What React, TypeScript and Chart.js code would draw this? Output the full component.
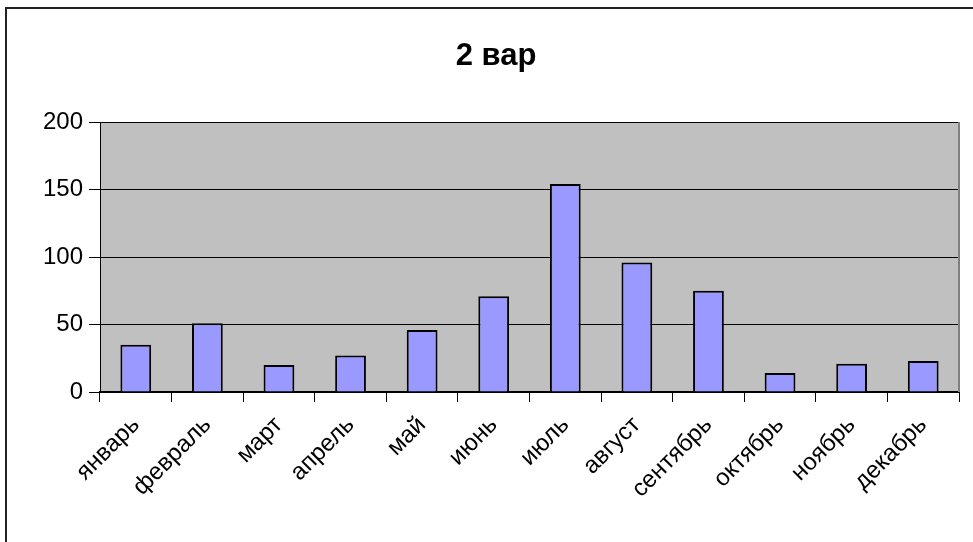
import React, { useEffect, useRef } from "react";
import { Chart, registerables } from "chart.js";

Chart.register(...registerables);

// ---- data ----
const months = [
  "январь",
  "февраль",
  "март",
  "апрель",
  "май",
  "июнь",
  "июль",
  "август",
  "сентябрь",
  "октябрь",
  "ноябрь",
  "декабрь",
];
const values = [35, 51, 20, 27, 46, 71, 154, 96, 75, 14, 21, 23];
const yMin = 0;
const yMax = 200;
const yStep = 50;
const chartTitle = "2 вар";

// ---- layout ----
const W = 973;
const H = 542;
const PAD_LEFT = 33;
const PLOT_LEFT = 100;
const PLOT_RIGHT = 959;
const PLOT_TOP = 122;
const PLOT_BOTTOM = 392;
const FONT = "'Liberation Sans', Arial, sans-serif";

const plotDecor = {
  id: "plotDecor",
  beforeDraw(chart: any) {
    const { ctx, chartArea } = chart;
    const { left, top, right, bottom } = chartArea;
    ctx.save();
    ctx.fillStyle = "#C0C0C0";
    ctx.fillRect(left, top, right - left, bottom - top);
    ctx.restore();
  },
  afterDraw(chart: any) {
    const { ctx, chartArea } = chart;
    const { top, right, bottom } = chartArea;
    ctx.save();
    ctx.strokeStyle = "#808080";
    ctx.lineWidth = 2;
    ctx.beginPath();
    ctx.moveTo(right, top);
    ctx.lineTo(right, bottom);
    ctx.stroke();
    ctx.restore();
  },
};

export default function App() {
  const canvasRef = useRef<HTMLCanvasElement | null>(null);

  useEffect(() => {
    const canvas = canvasRef.current;
    if (!canvas) return;
    const titleSize = 31;
    const titleLine = titleSize * 1.2;
    const titleTopPad = 38;
    const chart = new Chart(canvas, {
      type: "bar",
      data: {
        labels: months,
        datasets: [
          {
            data: values,
            backgroundColor: "#9999FF",
            borderColor: "#000000",
            borderWidth: 2,
            barPercentage: 0.43,
            categoryPercentage: 1,
          },
        ],
      },
      plugins: [plotDecor],
      options: {
        animation: false,
        responsive: true,
        maintainAspectRatio: false,
        layout: {
          padding: { left: PAD_LEFT, right: W - PLOT_RIGHT, top: 0, bottom: 0 },
        },
        plugins: {
          legend: { display: false },
          tooltip: { enabled: false },
          title: {
            display: true,
            text: chartTitle,
            color: "#000",
            font: { family: FONT, size: titleSize, weight: "bold", lineHeight: 1.2 },
            padding: {
              top: titleTopPad,
              bottom: PLOT_TOP - titleTopPad - titleLine,
            },
          },
        },
        scales: {
          x: {
            offset: true,
            grid: {
              display: true,
              drawOnChartArea: false,
              drawTicks: true,
              tickLength: 10,
              color: "#000",
              offset: true,
            },
            border: { display: true, color: "#000", width: 2 },
            ticks: {
              color: "#000",
              font: { family: FONT, size: 24 },
              minRotation: 45,
              maxRotation: 45,
              autoSkip: false,
              padding: 9,
            },
            afterFit(scale: any) {
              scale.height = H - PLOT_BOTTOM;
            },
          },
          y: {
            min: yMin,
            max: yMax,
            grid: {
              color: "#000",
              lineWidth: 1,
              tickLength: 11,
              drawTicks: true,
            },
            border: { display: true, color: "#000", width: 1 },
            ticks: {
              stepSize: yStep,
              color: "#000",
              font: { family: FONT, size: 24 },
              padding: 6,
            },
            afterFit(scale: any) {
              scale.width = PLOT_LEFT - PAD_LEFT;
            },
          },
        },
      },
    });
    return () => chart.destroy();
  }, []);

  return (
    <div
      style={{
        position: "absolute",
        left: 0,
        top: 0,
        width: W,
        height: H,
        overflow: "hidden",
        background: "#fff",
      }}
    >
      <div
        style={{
          position: "absolute",
          left: 5,
          top: 7,
          width: 2000,
          height: 2000,
          border: "2px solid #222",
        }}
      />
      <div style={{ position: "absolute", left: 0, top: 0, width: W, height: H }}>
        <canvas ref={canvasRef} />
      </div>
    </div>
  );
}
